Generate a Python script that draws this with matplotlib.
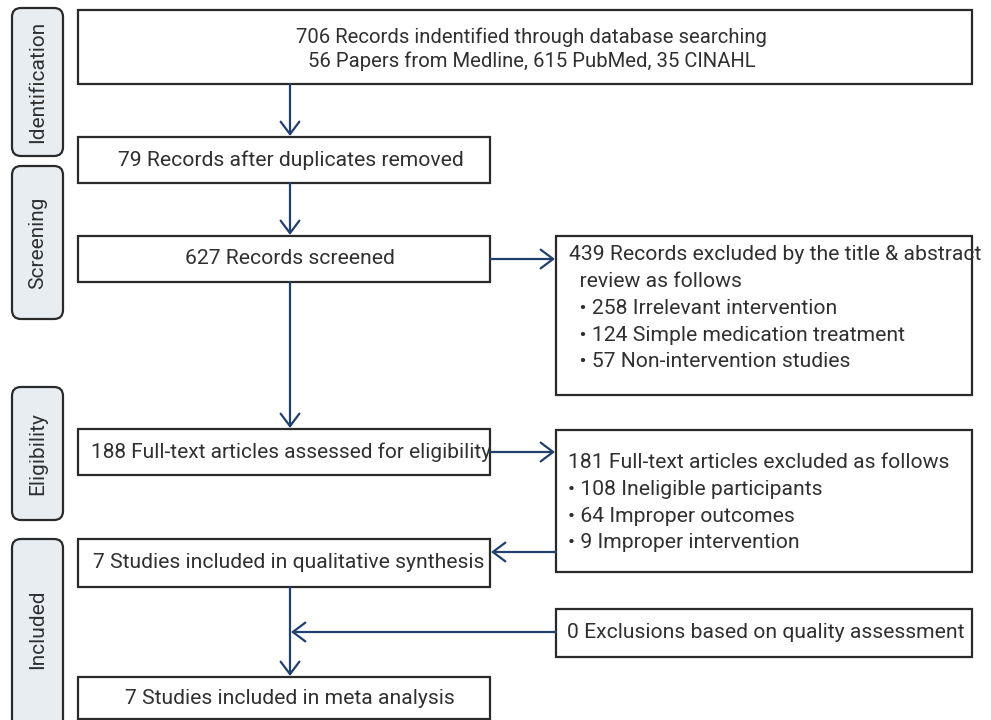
import matplotlib.pyplot as plt
from matplotlib.patches import Rectangle, FancyBboxPatch

plt.rcParams['font.family'] = ['Roboto', 'DejaVu Sans']

# stage labels on the left
stages = ['Identification', 'Screening', 'Eligibility', 'Included']

# main flow boxes (text)
main_texts = [
    '706 Records indentified through database searching\n56 Papers from Medline, 615 PubMed, 35 CINAHL',
    '79 Records after duplicates removed',
    '627 Records screened',
    '188 Full-text articles assessed for eligibility',
    '7 Studies included in qualitative synthesis',
    '7 Studies included in meta analysis',
]

# side (exclusion) boxes
side_texts = [
    ['439 Records excluded by the title & abstract', '  review as follows',
     '  \u2022 258 Irrelevant intervention', '  \u2022 124 Simple medication treatment',
     '  \u2022 57 Non-intervention studies'],
    ['181 Full-text articles excluded as follows', '\u2022 108 Ineligible participants',
     '\u2022 64 Improper outcomes', '\u2022 9 Improper intervention'],
    ['0 Exclusions based on quality assessment'],
]

W, H = 991, 720
fig = plt.figure(figsize=(W / 100, H / 100), dpi=100)
ax = fig.add_axes([0, 0, 1, 1])
ax.set_xlim(0, W)
ax.set_ylim(H, 0)
ax.axis('off')

edge = '#2a2a2a'
txt = '#303030'
arrow_c = '#22406e'
fs = 15.2

# layout (pixels)
stage_y = [(8, 156), (166, 319), (387, 520), (539, 730)]
main_boxes = [(78, 10, 972, 84), (78, 137, 490, 183), (78, 236, 490, 282),
              (78, 429, 490, 475), (78, 539, 490, 587), (78, 677, 490, 719)]
side_boxes = [(556, 236, 972, 395), (556, 430, 972, 572), (556, 609, 972, 657)]

for label, (y0, y1) in zip(stages, stage_y):
    ax.add_patch(FancyBboxPatch((12, y0), 51, y1 - y0,
                                boxstyle='round,pad=0,rounding_size=9',
                                fc='#e8edf2', ec=edge, lw=1.6))
    ax.text(37.5, (y0 + min(y1, 720)) / 2, label, rotation=90, ha='center',
            va='center', fontsize=15, color=txt)

for (x0, y0, x1, y1) in main_boxes + side_boxes:
    ax.add_patch(Rectangle((x0, y0), x1 - x0, y1 - y0, fc='white', ec=edge, lw=1.6))

# main box text
top1, top2 = main_texts[0].split('\n')
ax.text(531, 37, top1, ha='center', va='center', fontsize=14.6, color=txt)
ax.text(532, 61, top2, ha='center', va='center', fontsize=14.6, color=txt)
ax.text(291, 160, main_texts[1], ha='center', va='center', fontsize=fs, color=txt)
ax.text(290, 259, main_texts[2], ha='center', va='center', fontsize=fs, color=txt)
ax.text(291, 452, main_texts[3], ha='center', va='center', fontsize=15, color=txt)
ax.text(289, 563, main_texts[4], ha='center', va='center', fontsize=fs, color=txt)
ax.text(290, 699, main_texts[5], ha='center', va='center', fontsize=fs, color=txt)

# side box text
for i, line in enumerate(side_texts[0]):
    ax.text(569, 255 + i * 26.7, line, ha='left', va='center', fontsize=fs, color=txt)
for i, line in enumerate(side_texts[1]):
    ax.text(568, 463 + i * 26.5, line, ha='left', va='center', fontsize=fs, color=txt)
ax.text(567, 632, side_texts[2][0], ha='left', va='center', fontsize=fs, color=txt)


def arrow(p0, p1):
    ax.annotate('', xy=p1, xytext=p0,
                arrowprops=dict(arrowstyle='->,head_length=0.6,head_width=0.45',
                                mutation_scale=15, color=arrow_c, lw=1.6,
                                shrinkA=0, shrinkB=0))


arrow((290, 84), (290, 136))
arrow((290, 183), (290, 235))
arrow((290, 282), (290, 428))
arrow((490, 259), (555, 259))
arrow((490, 452), (555, 452))
arrow((556, 552), (491, 552))
arrow((290, 587), (290, 676))
arrow((556, 632), (291, 632))

fig.savefig('out.png', dpi=100)
